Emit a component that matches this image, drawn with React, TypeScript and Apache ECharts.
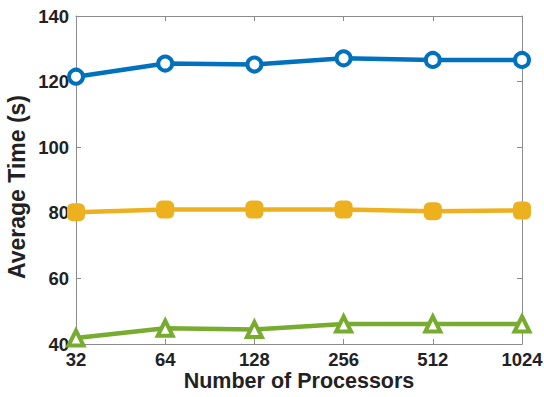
import React, { useEffect, useRef } from "react";
import * as echarts from "echarts";

const processors = ["32", "64", "128", "256", "512", "1024"];
const blueSeries = [121.5, 125.5, 125.2, 127.1, 126.6, 126.6];
const yellowSeries = [80.2, 81.0, 81.0, 81.0, 80.5, 80.7];
const greenSeries = [41.8, 44.8, 44.4, 46.1, 46.1, 46.1];

const FONT = "'Liberation Sans', Arial, Helvetica, sans-serif";
const AXIS_GRAY = "#8c8c8c";

export default function App() {
  const ref = useRef<HTMLDivElement>(null);

  useEffect(() => {
    if (!ref.current) return;
    const chart = echarts.init(ref.current, null, { renderer: "svg" });
    const tickLabel = { fontFamily: FONT, fontWeight: "bold" as const, fontSize: 18.5, lineHeight: 18, color: "#222" };
    const lineAxis = { lineStyle: { color: AXIS_GRAY, width: 1 } };
    const tick = { show: true, inside: true, length: 5, lineStyle: { color: AXIS_GRAY } };

    const makeSeries = (name: string, data: number[], color: string, symbol: string, filled: boolean) => ({
      name,
      type: "line",
      data,
      xAxisIndex: 0,
      yAxisIndex: 0,
      symbol,
      symbolSize: symbol === "triangle" ? 15 : 14,
      lineStyle: { color, width: 4.5 },
      itemStyle: { color: filled ? color : "#fff", borderColor: color, borderWidth: 4 },
    });

    chart.setOption({
      animation: false,
      grid: { left: 76, right: 22, top: 16, bottom: 53, containLabel: false, outerBoundsMode: "none" },
      xAxis: [
        {
          type: "category",
          data: processors,
          boundaryGap: false,
          name: "Number of Processors",
          nameLocation: "middle",
          nameGap: 27,
          nameMoveOverlap: false,
          nameTextStyle: { fontFamily: FONT, fontWeight: "bold", fontSize: 21.5, lineHeight: 20, color: "#222" },
          axisLine: lineAxis,
          axisTick: { ...tick, alignWithLabel: true },
          axisLabel: { ...tickLabel, margin: 6 },
          splitLine: { show: false },
        },
        {
          type: "category",
          data: processors,
          boundaryGap: false,
          position: "top",
          axisLine: lineAxis,
          axisTick: tick,
          axisLabel: { show: false },
          splitLine: { show: false },
        },
      ],
      yAxis: [
        {
          type: "value",
          min: 40,
          max: 140,
          interval: 20,
          name: "Average Time (s)",
          nameLocation: "middle",
          nameGap: 48,
          nameMoveOverlap: false,
          nameTextStyle: {
            fontFamily: FONT,
            fontWeight: "bold",
            fontSize: 23,
            color: "#222",
            padding: [0, 14, 0, 0],
          },
          axisLine: { show: true, ...lineAxis },
          axisTick: tick,
          axisLabel: { ...tickLabel, margin: 7 },
          splitLine: { show: false },
        },
        {
          type: "value",
          min: 40,
          max: 140,
          interval: 20,
          position: "right",
          axisLine: { show: true, ...lineAxis },
          axisTick: tick,
          axisLabel: { show: false },
          splitLine: { show: false },
        },
      ],
      series: [
        makeSeries("blue", blueSeries, "#0072BD", "circle", false),
        makeSeries("yellow", yellowSeries, "#EDB120", "roundRect", true),
        makeSeries("green", greenSeries, "#77AC30", "triangle", false),
      ],
    });

    return () => chart.dispose();
  }, []);

  return <div ref={ref} style={{ width: 544, height: 397, position: "absolute", left: 0, top: 0 }} />;
}
